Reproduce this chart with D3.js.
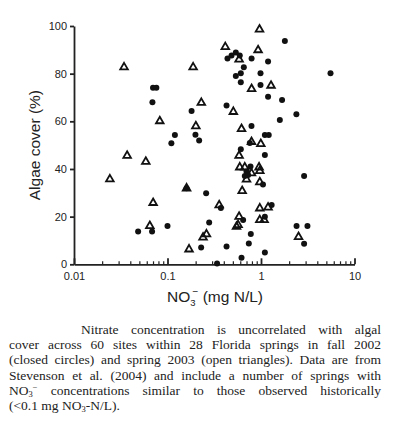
<!doctype html>
<html lang="en">
<head>
  <meta charset="utf-8">
  <title>Algae cover vs nitrate</title>
</head>

<style>
body {
	margin: 0;
	background: #fff;
}
svg {
	position: absolute;
	left: 0;
	top: 0;
}
.axis text {
	font-family: "Liberation Sans", Arial, sans-serif;
	font-size: 11px;
	fill: #222;
}
.caption {
	position: absolute;
	left: 9px;
	top: 322px;
	width: 372px;
	font-family: "Liberation Serif", "Times New Roman", "DejaVu Serif", serif;
	font-size: 13.5px;
	line-height: 15.2px;
	color: #222;
}
.caption .j {
	text-align: justify;
	text-align-last: justify;
}
.caption .lo, .caption .hi {
	font-size: 8.5px;
	line-height: 0;
	position: relative;
}
.caption .lo { top: 2px; }
.caption .hi { top: -5px; }
</style>

<body>
  <script src="https://cdn.jsdelivr.net/npm/d3@7"></script>
  <script>

	// Fall 2002 sites (closed circles)
	var fallNO3 = [0.070, 0.076, 0.069, 0.181, 0.120, 0.110, 0.199, 0.218, 1.80, 0.438,
		0.484, 0.538, 0.593, 0.793, 1.19, 0.655, 0.608, 0.538, 0.988, 0.608,
		0.988, 5.54, 1.19, 1.68, 0.428, 2.39, 1.59, 0.791, 1.10, 1.21,
		0.759, 0.608, 1.10, 0.772, 0.700, 0.671, 0.728, 1.05, 2.89, 0.259,
		0.372, 1.30, 1.10, 0.644, 0.279, 0.778, 0.741, 1.10, 0.619, 0.428,
		0.229, 0.339, 2.40, 3.14, 2.89, 0.0485, 0.0684, 0.100, 0.160];
	var fallCover = [74.1, 74.1, 68.0, 64.3, 54.3, 50.8, 54.4, 52.0, 93.7, 86.4,
		87.6, 88.9, 87.6, 86.4, 85.1, 82.7, 80.2, 79.0, 80.2, 76.4,
		75.2, 80.2, 70.3, 68.9, 66.6, 63.0, 60.6, 58.0, 54.3, 54.3,
		50.9, 48.3, 45.9, 41.0, 38.9, 37.1, 37.5, 33.5, 37.1, 29.8,
		23.6, 24.9, 20.0, 18.6, 17.5, 12.7, 8.7, 5.0, 2.8, 7.5,
		7.0, 0.3, 16.1, 16.1, 8.6, 13.8, 13.8, 16.1, 31.9];

	// Spring 2003 sites (open triangles)
	var springNO3 = [0.0343, 0.188, 0.0827, 0.230, 0.201, 0.964, 0.415, 0.931, 0.583, 0.793,
		1.28, 0.506, 0.619, 0.791, 0.995, 0.583, 0.593, 0.671, 0.954, 0.971,
		0.791, 0.700, 0.971, 0.629, 0.357, 0.971, 1.19, 0.971, 1.08, 0.583,
		0.547, 0.569, 0.240, 0.261, 0.170, 2.52, 0.037, 0.0586, 0.0242, 0.160,
		0.0702, 0.0647];
	var springCover = [82.7, 82.7, 60.1, 67.8, 58.0, 98.6, 91.2, 89.9, 86.0, 73.6,
		75.0, 64.0, 56.8, 51.4, 50.5, 45.6, 40.7, 40.7, 40.7, 39.2,
		38.2, 35.6, 34.5, 30.8, 24.8, 23.5, 23.9, 18.6, 18.6, 20.0,
		15.8, 16.5, 11.3, 12.6, 6.3, 11.5, 45.6, 43.1, 35.7, 31.9,
		25.8, 16.1];

	var xTicks = [0.01, 0.1, 1, 10];
	var xTickLabels = ["0.01", "0.1", "1", "10"];
	var yTicks = [0, 20, 40, 60, 80, 100];

	var svg = d3.select("body").append("svg")
		.attr("width", 411)
		.attr("height", 438);

	var x = d3.scaleLog()
		.domain([0.01, 10])
		.range([74, 354.5]);

	var y = d3.scaleLinear()
		.domain([0, 100])
		.range([264.3, 26]);

	// minor log ticks 2..9 in each decade
	var minor = [];
	xTicks.slice(0, 3).forEach(function (d) {
		for (var k = 2; k < 10; k++) minor.push(d * k);
	});

	svg.append("g")
		.attr("class", "axis")
		.attr("transform", "translate(0," + y(0) + ")")
		.call(d3.axisBottom(x)
			.tickValues(xTicks)
			.tickFormat(function (d, i) { return xTickLabels[i]; })
			.tickSizeInner(-6)
			.tickSizeOuter(0)
			.tickPadding(8));

	svg.append("g")
		.attr("class", "axis minor")
		.attr("transform", "translate(0," + y(0) + ")")
		.call(d3.axisBottom(x)
			.tickValues(minor)
			.tickFormat("")
			.tickSizeInner(-3)
			.tickSizeOuter(0))
		.select(".domain").remove();

	svg.append("g")
		.attr("class", "axis")
		.attr("transform", "translate(" + x(0.01) + ",0)")
		.call(d3.axisLeft(y)
			.tickValues(yTicks)
			.tickSize(4)
			.tickSizeOuter(0)
			.tickPadding(3));

	svg.selectAll(".axis path, .axis line")
		.attr("stroke", "#222")
		.attr("stroke-width", 1.8);
	svg.selectAll(".minor line")
		.attr("stroke-width", 1.2);

	// Axis titles
	var xt = svg.append("text")
		.attr("x", 215)
		.attr("y", 302)
		.attr("text-anchor", "middle")
		.attr("font-family", "Liberation Sans, Arial, sans-serif")
		.attr("font-size", "15.5px")
		.attr("fill", "#222");
	xt.append("tspan").text("NO");
	xt.append("tspan").attr("font-size", "9.5px").attr("dy", 4).text("3");
	xt.append("tspan").attr("font-size", "10px").attr("dx", -3).attr("dy", -11).text("\u2212");
	xt.append("tspan").attr("dy", 7).text(" (mg N/L)");

	svg.append("text")
		.attr("transform", "translate(40," + (y(0) + y(100)) / 2 + ") rotate(-90)")
		.attr("text-anchor", "middle")
		.attr("font-family", "Liberation Sans, Arial, sans-serif")
		.attr("font-size", "15.5px")
		.attr("fill", "#222")
		.text("Algae cover (%)");

	// Spring 2003 triangles
	var tri = d3.symbol().type(d3.symbolTriangle).size(25);
	svg.selectAll(".spring")
		.data(springNO3)
		.join("path")
		.classed("spring", true)
		.attr("d", tri)
		.attr("transform", function (d, i) {
			return "translate(" + x(d) + "," + y(springCover[i]) + ")";
		})
		.attr("fill", "none")
		.attr("stroke", "#111")
		.attr("stroke-width", 1.8)
		.attr("stroke-linejoin", "miter");

	// Fall 2002 circles
	svg.selectAll(".fall")
		.data(fallNO3)
		.join("circle")
		.classed("fall", true)
		.attr("cx", function (d) { return x(d); })
		.attr("cy", function (d, i) { return y(fallCover[i]); })
		.attr("r", 3)
		.attr("fill", "#111");

	// Caption
	var cap = d3.select("body").append("div").attr("class", "caption");
	cap.append("div").attr("class", "j").style("text-indent", "72px")
		.text("Nitrate concentration is uncorrelated with algal");
	cap.append("div").attr("class", "j")
		.text("cover across 60 sites within 28 Florida springs in fall 2002");
	cap.append("div").attr("class", "j")
		.text("(closed circles) and spring 2003 (open triangles). Data are from");
	cap.append("div").attr("class", "j")
		.text("Stevenson et al. (2004) and include a number of springs with");
	cap.append("div").attr("class", "j")
		.html("NO<span class='lo'>3</span><span class='hi'>\u2212</span> concentrations similar to those observed historically");
	cap.append("div")
		.html("(&lt;0.1 mg NO<span class='lo'>3</span>-N/L).");

  </script>
</body>
</html>
